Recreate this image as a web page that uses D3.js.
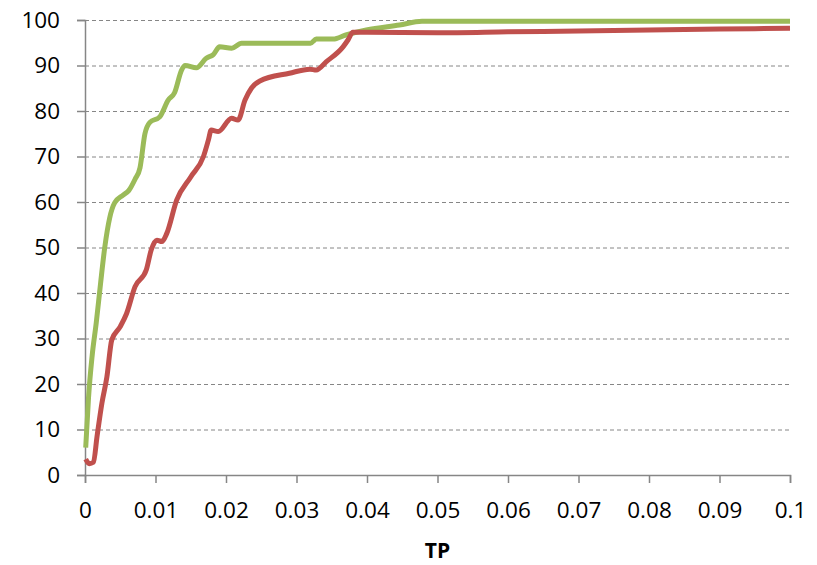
<!DOCTYPE html>
<html><head><meta charset="utf-8">
<script src="https://cdn.jsdelivr.net/npm/d3@7"></script>
<style>body{margin:0;background:#fff}svg{display:block}</style>
</head><body>
<script>
const xTicks = [0,0.01,0.02,0.03,0.04,0.05,0.06,0.07,0.08,0.09,0.1];
const xTickLabels = ["0","0.01","0.02","0.03","0.04","0.05","0.06","0.07","0.08","0.09","0.1"];
const yTicks = [0,10,20,30,40,50,60,70,80,90,100];
const xTitle = "TP";

const greenX = [0.0001,0.0005,0.001,0.0016,0.0022,0.0028,0.0035,0.0042,0.0054,0.0062,0.0071,0.0078,0.0085,0.0092,0.0106,0.0118,0.0127,0.0137,0.0142,0.0158,0.0172,0.0182,0.0191,0.0208,0.0222,0.032,0.0328,0.0352,0.037,0.0399,0.0446,0.0478,0.1];
const greenY = [6,17,26,33.5,42,50,56.5,59.8,61.5,62.5,65,67.5,75,77.5,78.7,82.4,84,89,90,89.5,91.6,92.4,94.1,93.8,94.9,94.9,95.8,95.8,96.7,97.8,98.9,99.7,99.7];

const redX = [0.0001,0.0006,0.0012,0.0017,0.0024,0.0031,0.0038,0.005,0.0059,0.0071,0.0087,0.0094,0.0102,0.0109,0.0116,0.013,0.015,0.0168,0.0175,0.0179,0.0189,0.0208,0.0217,0.0227,0.0236,0.0248,0.029,0.0319,0.0328,0.0342,0.0366,0.0373,0.038,0.04,0.05,0.06,0.07,0.08,0.09,0.1];
const redY = [3.5,2.5,2.8,8.4,15.8,21.5,29.7,32.6,35.5,41.4,45.1,49.5,51.6,51.3,53.1,60.4,65.5,70,73.6,75.8,75.5,78.4,78.0,82.4,85,86.6,88.3,89.2,89.0,90.8,94.1,95.6,97.3,97.3,97.2,97.4,97.6,97.8,98.0,98.2];

const series = [
  {name:"green", color:"#9BBB59", pts: greenX.map((x,i)=>[x,greenY[i]])},
  {name:"red", color:"#C0504D", pts: redX.map((x,i)=>[x,redY[i]])}
];

const W=817,H=565;
const L=85,R=790,T=20,B=475;
const svg=d3.select("body").append("svg").attr("width",W).attr("height",H);
const x=d3.scaleLinear().domain([0,0.1]).range([L,R]);
const y=d3.scaleLinear().domain([0,100]).range([B,T]);
const font="'Open Sans', 'Liberation Sans', sans-serif";
const axisColor="#868686";

// gridlines
svg.append("g").selectAll("line").data(yTicks.filter(d=>d>0)).join("line")
  .attr("x1",L).attr("x2",R).attr("y1",d=>y(d)+0.5).attr("y2",d=>y(d)+0.5)
  .attr("stroke",axisColor).attr("stroke-width",1).attr("stroke-dasharray","4,3");

// y axis
const yAxis=svg.append("g").attr("transform",`translate(${L},0)`)
  .call(d3.axisLeft(y).tickValues(yTicks).tickSize(8).tickPadding(17).tickFormat(d3.format("d")));
// x axis
const xAxis=svg.append("g").attr("transform",`translate(0,${B})`)
  .call(d3.axisBottom(x).tickValues(xTicks).tickSize(8).tickPadding(19).tickFormat((d,i)=>xTickLabels[i]));
[yAxis,xAxis].forEach(g=>{
  g.selectAll("path,line").attr("stroke",axisColor).attr("stroke-width",1.5);
  g.selectAll("text").attr("font-family",font).attr("font-size",22.5).attr("fill","#000");
});
xAxis.selectAll("text").attr("dy","0.71em");

// lines
const line=d3.line().x(d=>x(d[0])).y(d=>y(d[1])).curve(d3.curveMonotoneX);
svg.append("g").selectAll("path").data(series).join("path")
  .attr("d",d=>line(d.pts)).attr("fill","none").attr("stroke",d=>d.color)
  .attr("stroke-width",5).attr("stroke-linejoin","round").attr("stroke-linecap","butt");

// title
svg.append("text").attr("x",(L+R)/2).attr("y",558).attr("text-anchor","middle")
  .attr("font-family",font).attr("font-size",21).attr("font-weight","bold").text(xTitle);
</script>
</body></html>
